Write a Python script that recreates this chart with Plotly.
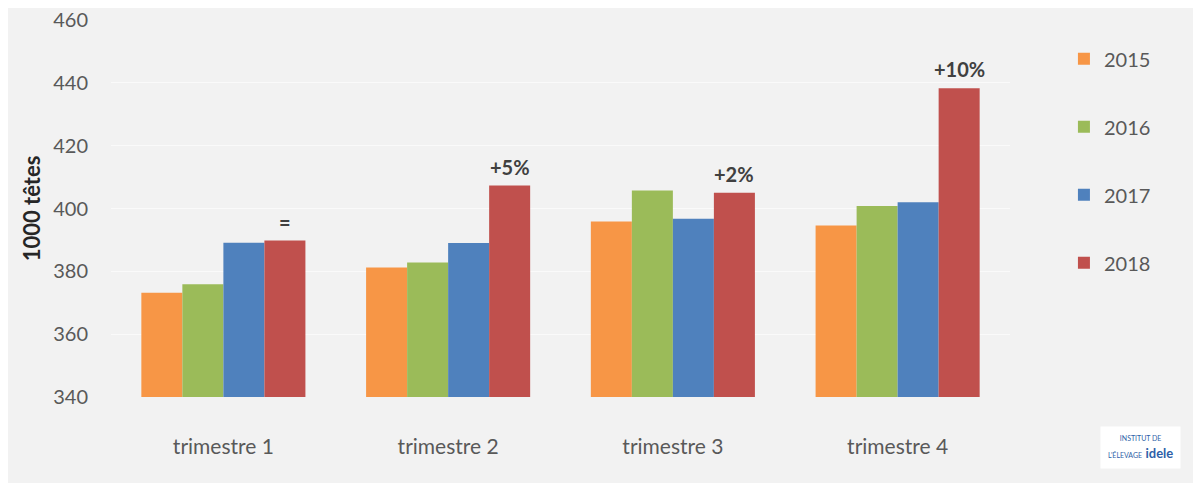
import plotly.graph_objects as go

categories = ["trimestre 1", "trimestre 2", "trimestre 3", "trimestre 4"]
years = ["2015", "2016", "2017", "2018"]
v2015 = [373.2, 381.2, 395.9, 394.6]
v2016 = [375.9, 382.8, 405.7, 400.8]
v2017 = [389.1, 389.0, 396.7, 402.0]
v2018 = [389.8, 407.3, 405.0, 438.3]
evolution_labels = ["=", "+5%", "+2%", "+10%"]

colors = ["#F79646", "#9BBB59", "#4F81BD", "#C0504D"]
series = [v2015, v2016, v2017, v2018]
bargap = 0.27

fig = go.Figure()
for name, vals, col in zip(years, series, colors):
    fig.add_trace(go.Bar(
        x=list(range(len(categories))), y=vals, name=name,
        marker=dict(color=col, line=dict(width=0)),
        legendgroup=name,
    ))

# red bar offset within group (category units)
w = (1 - bargap) / 4
for i, (lab, v) in enumerate(zip(evolution_labels, v2018)):
    fig.add_annotation(
        x=i + 1.5 * w, y=v, xref="x", yref="y", text="<b>%s</b>" % lab,
        showarrow=False, yanchor="bottom", yshift=5,
        font=dict(family="Lato, Open Sans, sans-serif", size=20, color="#404040"),
    )

# logo approximation
fig.add_annotation(
    xref="paper", yref="paper", x=1.145, y=-0.135, xanchor="center", yanchor="middle",
    text="<span style='font-size:7px'>INSTITUT DE<br>L'ÉLEVAGE</span> <b>idele</b>",
    showarrow=False, font=dict(family="Lato, sans-serif", size=13, color="#2E5FA8"),
    bgcolor="#ffffff", borderpad=7,
)

fig.update_layout(
    width=1201, height=483,
    paper_bgcolor="#F2F2F2", plot_bgcolor="#F2F2F2",
    margin=dict(l=103, r=199, t=12, b=94, autoexpand=False),
    barmode="group", bargap=bargap, bargroupgap=0,
    font=dict(family="Lato, Open Sans, sans-serif", color="#595959"),
    legend=dict(
        x=1.06, y=0.949, xanchor="left", yanchor="top",
        font=dict(size=20, color="#595959"),
        tracegroupgap=39, bgcolor="rgba(0,0,0,0)",
        itemclick=False,
    ),
    showlegend=True,
)
fig.update_xaxes(
    tickmode="array", tickvals=list(range(len(categories))), ticktext=categories,
    range=[-0.5, len(categories) - 0.5], automargin=False,
    showgrid=False, zeroline=False, showline=False, ticks="",
    tickfont=dict(size=21, color="#595959"), ticklabelstandoff=35,
)
fig.update_yaxes(
    range=[340, 460], dtick=20, showgrid=True, gridcolor="#FAFAFA", gridwidth=1,
    zeroline=False, showline=False, ticks="", ticklabeloverflow="allow", automargin=False,
    tickfont=dict(size=20, color="#595959"), ticklabelstandoff=22,
    title=dict(text="<b>1000 têtes</b>", font=dict(size=22, color="#262626"), standoff=6),
)

fig.write_html("out.html")
